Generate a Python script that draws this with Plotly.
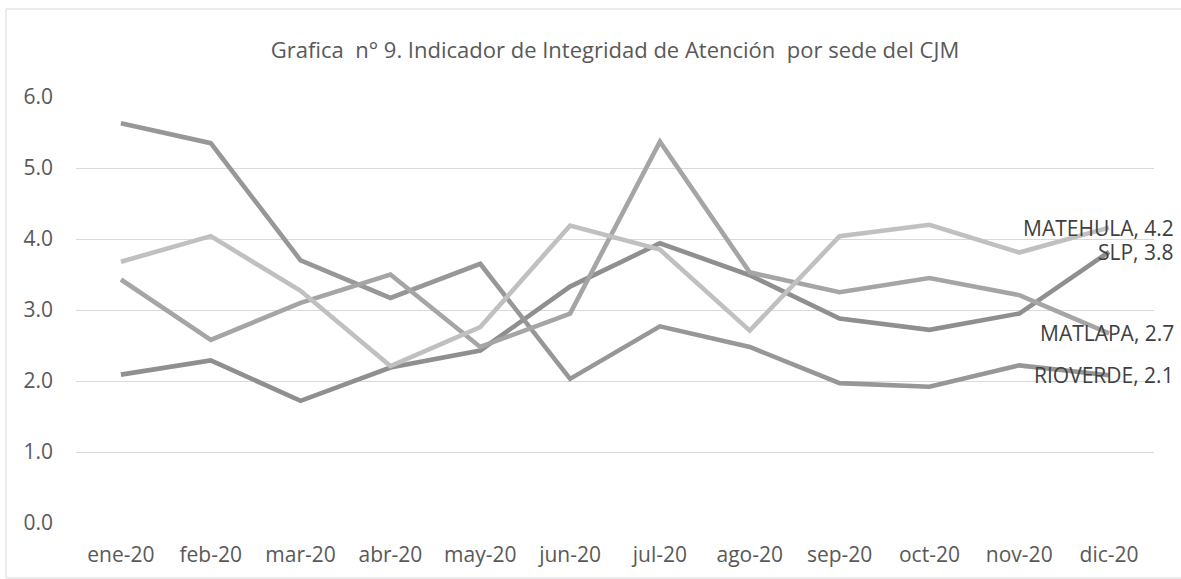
import plotly.graph_objects as go

months = ["ene-20", "feb-20", "mar-20", "abr-20", "may-20", "jun-20",
          "jul-20", "ago-20", "sep-20", "oct-20", "nov-20", "dic-20"]

rioverde = [5.63, 5.35, 3.70, 3.17, 3.65, 2.03, 2.77, 2.48, 1.97, 1.92, 2.22, 2.08]
matehula = [3.68, 4.04, 3.27, 2.21, 2.76, 4.19, 3.85, 2.71, 4.04, 4.20, 3.81, 4.16]
matlapa  = [3.43, 2.58, 3.10, 3.50, 2.48, 2.95, 5.37, 3.53, 3.25, 3.45, 3.21, 2.67]
slp      = [2.09, 2.29, 1.72, 2.19, 2.43, 3.33, 3.94, 3.49, 2.88, 2.72, 2.95, 3.82]

series = [
    ("SLP", slp, "#8f8f8f"),
    ("RIOVERDE", rioverde, "#979797"),
    ("MATLAPA", matlapa, "#a5a5a5"),
    ("MATEHULA", matehula, "#c0c0c0"),
]

yticks = [0, 1, 2, 3, 4, 5, 6]

FONT = "Open Sans"
W, H = 1181, 579
ML, MR, MT, MB = 76, 27, 97, 56

fig = go.Figure()
for name, vals, col in series:
    fig.add_trace(go.Scatter(
        x=months, y=vals, name=name, mode="lines",
        line=dict(color=col, width=4.6),
        showlegend=False, hoverinfo="x+y+name",
    ))
    fig.add_annotation(
        x=months[-1], y=vals[-1], xref="x", yref="y",
        text=f"{name}, {vals[-1]:.1f}", showarrow=False,
        xanchor="right", yanchor="middle", xshift=67,
        font=dict(family=FONT, size=21, color="#404040"),
    )

pw = W - ML - MR
ph = H - MT - MB
fig.add_shape(type="rect", xref="paper", yref="paper",
              x0=(6 - ML) / pw, x1=(W + 5 - ML) / pw,
              y0=(H - MB - 578) / ph, y1=(H - MB - 9) / ph,
              line=dict(color="#d9d9d9", width=1), fillcolor="rgba(0,0,0,0)", layer="below")

fig.update_layout(
    width=W, height=H,
    margin=dict(l=ML, r=MR, t=MT, b=MB),
    paper_bgcolor="white", plot_bgcolor="white",
    title=dict(text="Grafica  n° 9. Indicador de Integridad de Atención  por sede del CJM",
               x=0.5, xref="paper", xanchor="center", y=1 - 50 / H, yanchor="middle",
               font=dict(family=FONT, size=22, color="#595959")),
    font=dict(family=FONT, color="#595959"),
    xaxis=dict(type="category", range=[-0.5, 11.5], showgrid=False, zeroline=False,
               showline=False, ticks="", tickfont=dict(size=21, color="#595959"),
               ticklabelstandoff=17),
    yaxis=dict(range=[0, 6], tickvals=yticks, tickformat=".1f", showgrid=True,
               gridcolor="#d9d9d9", gridwidth=1.3, zeroline=False, showline=False,
               ticks="", tickfont=dict(size=21, color="#595959"), ticklabelstandoff=22),
)

fig.write_html("out.html", config={"displayModeBar": False},
               post_script="document.body.style.margin='0';document.body.style.overflow='hidden';")
